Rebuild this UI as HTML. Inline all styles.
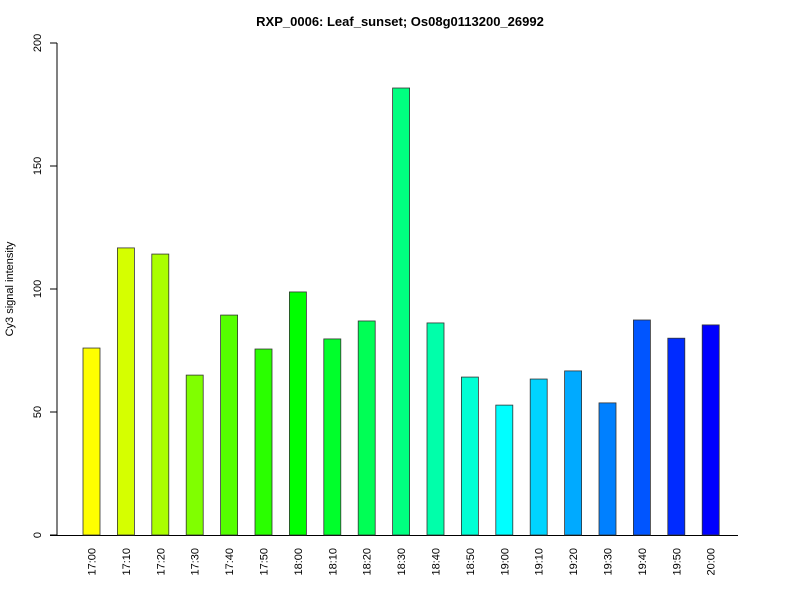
<!DOCTYPE html>
<html><head><meta charset="utf-8"><style>body{margin:0;background:#fff}svg{display:block;font-family:"Liberation Sans",Arial,sans-serif}</style></head>
<body>
<svg id="chart" width="800" height="600" xmlns="http://www.w3.org/2000/svg">
<rect width="800" height="600" fill="#fff"/>
<text x="400" y="26" text-anchor="middle" font-size="13" font-weight="bold">RXP_0006: Leaf_sunset; Os08g0113200_26992</text>
<text transform="translate(13,289) rotate(-90)" text-anchor="middle" font-size="11">Cy3 signal intensity</text>
<g id="axes"></g><g id="bars"></g>
</svg>
<script>
const categories=["17:00","17:10","17:20","17:30","17:40","17:50","18:00","18:10","18:20","18:30","18:40","18:50","19:00","19:10","19:20","19:30","19:40","19:50","20:00"];
const values=[76,116.7,114.2,65,89.4,75.6,98.8,79.7,87,181.7,86.2,64.2,52.8,63.4,66.7,53.7,87.4,80,85.4];
const yTicks=[0,50,100,150,200];
const NS="http://www.w3.org/2000/svg";
const y0=535,y1=43,ymax=200;
function yS(v){return y0-(v/ymax)*(y0-y1);}
function xS(i){return 91.5+i*34.4;}
function mk(t,a,p){const e=document.createElementNS(NS,t);for(const k in a)e.setAttribute(k,a[k]);p.appendChild(e);return e;}
const ax=document.getElementById('axes'),bg=document.getElementById('bars');
const yl=mk('line',{x1:57,x2:57,y1:yS(0),y2:yS(200),stroke:'#000'},ax);


const xl=mk('line',{x1:50,x2:738,y1:535.5,y2:535.5,stroke:'#000'},ax);


yTicks.forEach(v=>{const y=yS(v);
 mk('line',{x1:50,x2:57,y1:y,y2:y,stroke:'#000'},ax);
 const t=mk('text',{transform:`translate(41,${y}) rotate(-90)`,'text-anchor':'middle','font-size':11},ax);
 t.textContent=v;
 
 
});
categories.forEach((c,i)=>{
 const hue=60+i*(180/(categories.length-1));
 const x=xS(i);
 const r=mk('rect',{x:x-8.5,y:yS(values[i]),width:17,height:yS(0)-yS(values[i]),fill:`hsl(${hue},100%,50%)`,stroke:'#333','stroke-width':0.8},bg);
 
 
 const t=mk('text',{transform:`translate(${x+4},548) rotate(-90)`,'text-anchor':'end','font-size':11},ax);
 t.textContent=c;
 
 
});
</script>
</body></html>
